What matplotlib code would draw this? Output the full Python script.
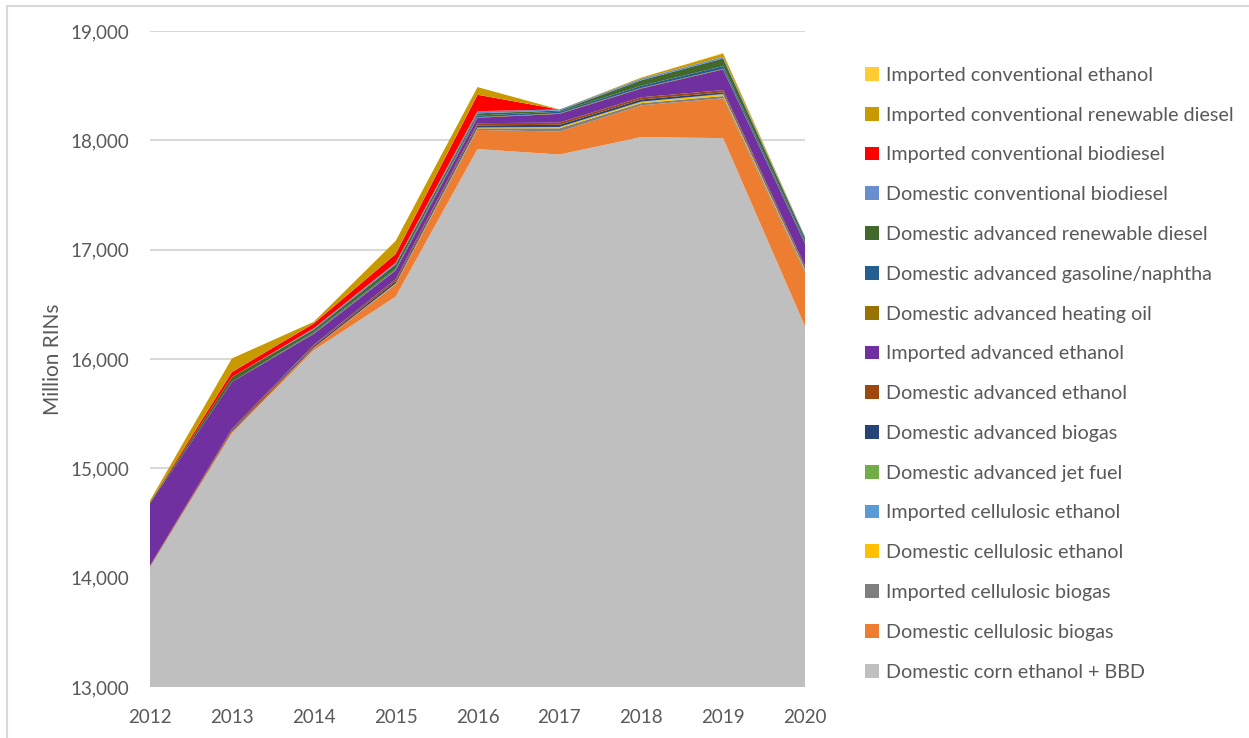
import matplotlib.pyplot as plt
from matplotlib.patches import Rectangle, Patch
from matplotlib.ticker import FuncFormatter

plt.rcParams['font.family'] = ['Lato', 'DejaVu Sans']

years = [2012, 2013, 2014, 2015, 2016, 2017, 2018, 2019, 2020]

# layer thickness in million RINs, bottom to top
corn_bbd = [14100, 15320, 16080, 16570, 17920, 17870, 18030, 18020, 16300]
dom_cell_biogas = [0, 15, 25, 110, 175, 210, 290, 365, 490]
imp_cell_biogas = [0, 0, 0, 5, 15, 30, 20, 20, 20]
dom_cell_ethanol = [0, 0, 0, 5, 5, 10, 10, 15, 10]
imp_cell_ethanol = [0, 0, 0, 0, 2, 2, 2, 2, 2]
dom_adv_jet = [0, 0, 0, 0, 0, 0, 2, 2, 2]
dom_adv_biogas = [0, 10, 15, 20, 20, 20, 20, 15, 15]
dom_adv_ethanol = [10, 15, 10, 20, 20, 20, 20, 20, 15]
imp_adv_ethanol = [570, 430, 100, 80, 50, 80, 80, 190, 200]
dom_adv_heating = [0, 0, 5, 5, 5, 5, 5, 5, 5]
dom_adv_naphtha = [0, 0, 10, 10, 15, 15, 20, 25, 20]
dom_adv_rd = [10, 45, 25, 40, 20, 10, 50, 70, 30]
dom_conv_bd = [0, 0, 10, 15, 20, 10, 15, 15, 10]
imp_conv_bd = [0, 45, 45, 80, 150, 0, 0, 0, 0]
imp_conv_rd = [15, 125, 15, 120, 70, 0, 10, 30, 0]
imp_conv_ethanol = [0, 0, 0, 0, 0, 0, 0, 5, 0]

series = [
    ('Domestic corn ethanol + BBD', corn_bbd, '#bfbfbf'),
    ('Domestic cellulosic biogas', dom_cell_biogas, '#ed7d31'),
    ('Imported cellulosic biogas', imp_cell_biogas, '#7f7f7f'),
    ('Domestic cellulosic ethanol', dom_cell_ethanol, '#ffc000'),
    ('Imported cellulosic ethanol', imp_cell_ethanol, '#5b9bd5'),
    ('Domestic advanced jet fuel', dom_adv_jet, '#70ad47'),
    ('Domestic advanced biogas', dom_adv_biogas, '#264478'),
    ('Domestic advanced ethanol', dom_adv_ethanol, '#9e480e'),
    ('Imported advanced ethanol', imp_adv_ethanol, '#7030a0'),
    ('Domestic advanced heating oil', dom_adv_heating, '#997300'),
    ('Domestic advanced gasoline/naphtha', dom_adv_naphtha, '#255e91'),
    ('Domestic advanced renewable diesel', dom_adv_rd, '#43682b'),
    ('Domestic conventional biodiesel', dom_conv_bd, '#698ed0'),
    ('Imported conventional biodiesel', imp_conv_bd, '#ff0000'),
    ('Imported conventional renewable diesel', imp_conv_rd, '#c89a00'),
    ('Imported conventional ethanol', imp_conv_ethanol, '#ffcd33'),
]

fig = plt.figure(figsize=(12.49, 7.38), dpi=100)
ax = fig.add_axes([150 / 1249, 51 / 738, 655 / 1249, 656 / 738])

ax.stackplot(years, *[s[1] for s in series], colors=[s[2] for s in series],
             linewidth=0, zorder=2)

ax.set_xlim(2012, 2020)
ax.set_ylim(13000, 19000)
ax.set_yticks(range(13000, 19001, 1000))
ax.set_xticks(years)
ax.yaxis.set_major_formatter(FuncFormatter(lambda v, p: f'{int(v):,}'))
ax.grid(axis='y', color='#d9d9d9', linewidth=1.5, zorder=0)
ax.set_axisbelow(True)
for sp in ax.spines.values():
    sp.set_visible(False)
ax.tick_params(length=0, labelsize=13.5, labelcolor='#595959')
ax.tick_params(axis='y', pad=15)
ax.tick_params(axis='x', pad=16)
ax.set_ylabel('Million RINs', fontsize=15, color='#595959', labelpad=5)

# chart border
fig.patches.append(Rectangle((7 / 1249, -0.05), 1.2, 1.05 - 6 / 738,
                             transform=fig.transFigure, fill=False,
                             edgecolor='#d9d9d9', linewidth=1.5))

handles = [Patch(facecolor=c, edgecolor='none', label=n) for n, v, c in series[::-1]]
fig.legend(handles=handles, loc='upper left', bbox_to_anchor=(857 / 1249, 1 - 59 / 738),
           frameon=False, fontsize=14.2, labelcolor='#595959',
           handlelength=0.7, handleheight=0.7, handletextpad=0.35,
           labelspacing=1.155, borderaxespad=0)

fig.savefig('out.png', dpi=100)
